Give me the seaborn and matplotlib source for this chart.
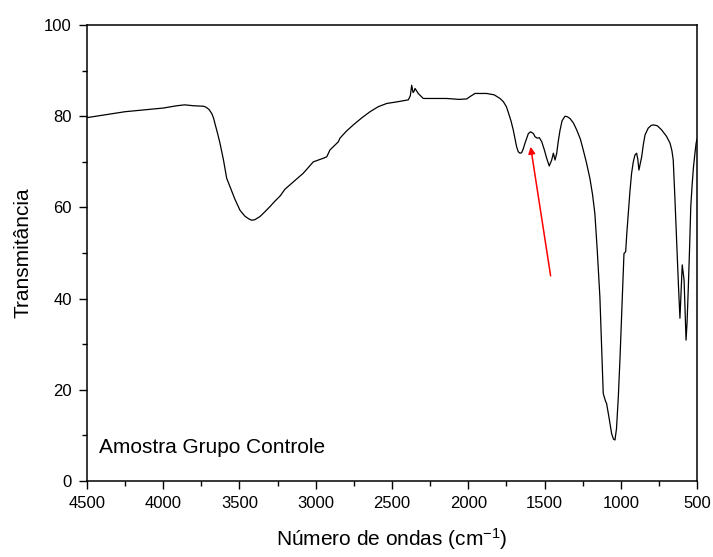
import numpy as np
import pandas as pd
import matplotlib
matplotlib.use("Agg")
import matplotlib.pyplot as plt
from matplotlib.ticker import MultipleLocator
import seaborn as sns

# FTIR spectrum (wavenumber in cm-1, transmittance in %)
wavenumber = [4500, 4250, 4000, 3912, 3860, 3800, 3737, 3720, 3700, 3690,
              3682, 3670, 3661, 3645, 3628, 3605, 3584, 3562, 3530, 3497,
              3465, 3440, 3420, 3400, 3385, 3366, 3335, 3300, 3270, 3234,
              3202, 3140, 3082, 3016, 2950, 2928, 2907, 2880, 2852, 2841,
              2800, 2754, 2700, 2644, 2590, 2535, 2460, 2393, 2380, 2371,
              2362, 2355, 2349, 2328, 2295, 2220, 2142, 2060, 2010, 1989,
              1956, 1920, 1880, 1830, 1792, 1770, 1750, 1737, 1720, 1705,
              1693, 1683, 1672, 1661, 1650, 1640, 1628, 1606, 1591, 1573,
              1562, 1547, 1534, 1518, 1500, 1486, 1469, 1453, 1442, 1431,
              1420, 1410, 1398, 1385, 1366, 1350, 1333, 1310, 1289, 1265,
              1246, 1225, 1202, 1185, 1170, 1155, 1137, 1125, 1115, 1100,
              1093, 1075, 1060, 1048, 1038, 1028, 1016, 1005, 994, 985,
              979, 968, 960, 951, 940, 929, 918, 907, 896, 888,
              881, 873, 863, 852, 841, 820, 800, 787, 770, 760,
              732, 700, 677, 665, 656, 645, 634, 622, 612, 604,
              597, 590, 585, 578, 572, 565, 557, 548, 541, 532,
              524, 515, 506, 500]
transmittance = [79.7, 81.0, 81.8, 82.3, 82.5, 82.3, 82.2, 82.0, 81.5, 81.0,
                 80.6, 79.6, 78.4, 76.4, 74.1, 70.4, 66.4, 64.5, 61.8, 59.4,
                 58.1, 57.5, 57.2, 57.3, 57.6, 58.0, 59.0, 60.2, 61.3, 62.5,
                 64.0, 65.8, 67.5, 70.0, 70.8, 71.1, 72.6, 73.5, 74.4, 75.2,
                 76.7, 78.1, 79.6, 81.0, 82.1, 82.8, 83.2, 83.6, 84.5, 86.8,
                 85.2, 85.5, 86.1, 85.0, 83.9, 83.9, 83.9, 83.7, 83.8, 84.3,
                 85.0, 85.0, 85.0, 84.7, 83.9, 83.2, 82.1, 80.8, 79.0, 77.0,
                 75.0, 73.3, 72.2, 71.9, 72.0, 72.8, 74.1, 76.2, 76.6, 76.2,
                 75.5, 75.2, 75.3, 74.4, 72.5, 70.8, 69.1, 70.4, 71.9, 70.4,
                 71.9, 74.5, 77.0, 79.0, 80.0, 79.9, 79.5, 78.5, 77.0, 75.0,
                 72.6, 69.8, 66.3, 62.8, 58.7, 51.0, 40.4, 29.0, 19.2, 17.5,
                 17.0, 13.5, 10.4, 9.2, 9.0, 11.5, 18.5, 27.0, 36.8, 44.5,
                 49.9, 50.3, 54.5, 58.7, 63.5, 67.5, 70.0, 71.5, 71.9, 70.5,
                 68.2, 69.5, 71.1, 73.8, 75.9, 77.4, 78.0, 78.1, 78.0, 77.9,
                 77.0, 75.6, 74.1, 72.5, 70.4, 62.0, 52.9, 43.0, 35.7, 42.0,
                 47.4, 45.5, 44.1, 37.0, 30.9, 35.0, 42.6, 52.0, 60.2, 65.0,
                 68.6, 71.5, 74.1, 75.0]

arrow_tail = (1460, 45.0)
arrow_head = (1591, 73.3)
sample_label = "Amostra Grupo Controle"

df = pd.DataFrame({"wavenumber": wavenumber, "transmittance": transmittance})

sns.set_style("ticks")
plt.rcParams["font.family"] = ["Liberation Sans", "DejaVu Sans"]
plt.rcParams["mathtext.fontset"] = "custom"
plt.rcParams["mathtext.rm"] = "Liberation Sans"
plt.rcParams["mathtext.it"] = "Liberation Sans"
plt.rcParams["text.color"] = "black"
plt.rcParams["axes.labelcolor"] = "black"

fig = plt.figure(figsize=(7.13, 5.57), dpi=100)
ax = fig.add_axes([0.1220, 0.1364, 0.8556, 0.8186])

sns.lineplot(data=df, x="wavenumber", y="transmittance", sort=False,
             color="black", linewidth=0.9, ax=ax)

ax.set_xlim(4500, 500)
ax.set_ylim(0, 100)
ax.xaxis.set_major_locator(MultipleLocator(500))
ax.xaxis.set_minor_locator(MultipleLocator(250))
ax.yaxis.set_major_locator(MultipleLocator(20))
ax.yaxis.set_minor_locator(MultipleLocator(10))
ax.tick_params(which="major", direction="out", length=6, width=1,
               labelsize=12, pad=5, colors="black")
ax.tick_params(which="minor", direction="out", length=3.5, width=1,
               colors="black")

for side in ["left", "bottom", "right", "top"]:
    ax.spines[side].set_visible(True)
    ax.spines[side].set_linewidth(1.1)
    ax.spines[side].set_color("black")

ax.set_xlabel("Número de ondas (cm$^{-1}$)", fontsize=15, labelpad=11)
ax.set_ylabel("Transmitância", fontsize=15, labelpad=8)

ax.text(4423, 6.1, sample_label, fontsize=15, ha="left", va="baseline")

ax.annotate("", xy=arrow_head, xytext=arrow_tail,
            arrowprops=dict(arrowstyle="-|>", color="red", lw=1.1,
                            mutation_scale=10, shrinkA=0, shrinkB=0))

fig.savefig("out.png", dpi=100)
